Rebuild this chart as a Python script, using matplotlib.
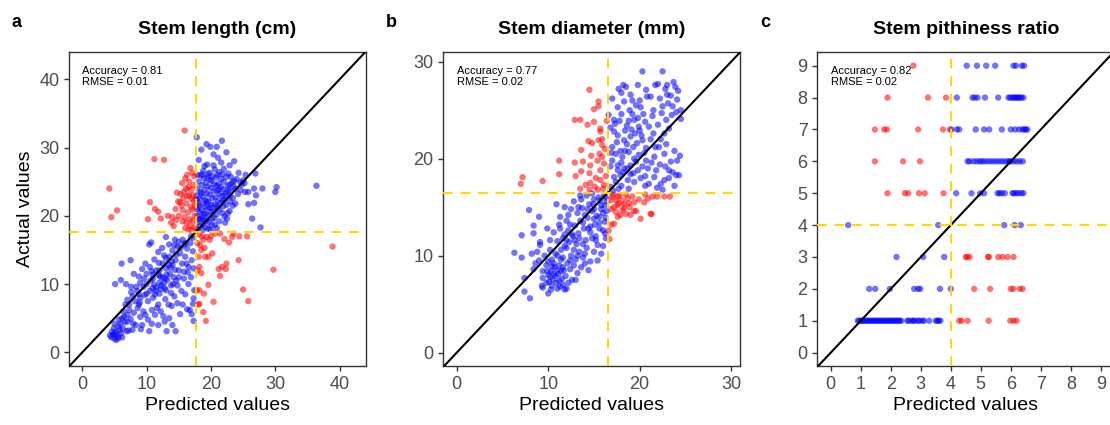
import matplotlib
matplotlib.use("Agg")
import matplotlib.pyplot as plt
import numpy as np

plt.rcParams.update({
    'font.family': ['Liberation Sans', 'DejaVu Sans'],
    'axes.linewidth': 1.0,
})

# ---------------- panel a : stem length (cm) ----------------
a_red = np.array([
    (15.9, 32.5), (11.2, 28.3), (12.7, 28.2), (4.2, 24.0), (4.5, 19.8), (5.4, 20.8),
    (10.5, 22.0), (10.2, 19.5), (11.3, 21.0), (11.8, 20.6), (12.2, 19.6), (13.8, 19.0),
    (14.2, 18.5), (14.7, 23.4), (14.9, 22.1), (16.8, 27.0), (17.1, 26.3), (16.3, 26.0),
    (16.0, 25.5), (15.5, 24.8), (16.5, 24.2), (15.8, 23.5), (16.6, 23.0), (17.2, 23.0),
    (17.0, 22.5), (15.2, 22.0), (16.2, 21.8), (17.3, 22.2), (14.5, 21.0), (15.6, 20.8),
    (16.4, 20.5), (17.1, 20.9), (15.0, 20.0), (15.9, 19.8), (16.7, 19.5), (17.2, 19.3),
    (14.6, 19.4), (16.2, 19.0), (16.8, 18.6), (17.4, 18.3), (16.0, 18.2), (17.0, 17.9),
    (15.4, 21.5), (16.9, 21.3), (15.7, 22.6), (17.3, 24.5), (16.1, 24.0), (15.3, 23.2),
    (16.6, 25.0), (17.4, 25.8), (14.0, 19.8), (13.3, 20.0), (16.3, 22.9), (16.9, 23.8),
    (17.5, 21.5), (17.5, 20.0), (16.5, 18.0), (15.6, 19.2),
    (18.1, 17.3), (18.8, 16.5), (18.3, 15.7), (19.3, 16.9), (18.5, 15.0), (19.1, 14.0),
    (19.6, 14.0), (20.2, 14.5), (19.8, 16.5), (20.6, 17.4), (21.4, 17.4), (22.1, 16.6),
    (22.8, 16.1), (23.3, 16.9), (24.4, 17.0), (25.6, 17.0), (23.5, 17.4), (18.2, 12.5),
    (18.5, 11.6), (17.8, 9.1), (18.2, 9.1), (18.9, 8.6), (19.6, 9.9), (18.2, 7.1),
    (18.8, 5.9), (19.2, 4.6), (20.4, 7.4), (21.2, 12.2), (21.4, 11.2), (21.7, 12.5),
    (22.4, 13.0), (22.3, 12.2), (24.3, 13.5), (25.0, 9.2), (25.8, 7.5), (29.7, 12.1),
    (38.9, 15.5), (18.1, 14.0), (17.9, 16.0), (18.6, 17.0), (19.0, 15.3), (18.0, 7.0),
    (20.0, 17.0), (17.9, 12.0),
])
a_blue = np.array([
    # predicted > 17.6, actual > 17.6
    (17.8, 31.5), (21.7, 31.0), (19.3, 30.5), (19.9, 30.1), (18.5, 29.7), (20.9, 30.1),
    (22.4, 29.3), (20.4, 29.0), (21.1, 28.5), (18.1, 28.2), (23.6, 28.0), (22.9, 27.4),
    (19.4, 27.5), (18.8, 26.6), (36.4, 24.4), (30.2, 24.2), (30.0, 23.5), (28.0, 24.0),
    (26.7, 24.0), (27.0, 23.0), (25.8, 23.5), (25.3, 23.5), (26.7, 21.9), (25.8, 21.7),
    (26.4, 19.6), (27.7, 18.3), (23.8, 21.8), (22.9, 20.7), (22.5, 19.6), (22.2, 19.0),
    (20.9, 18.2), (20.0, 17.9), (26.9, 26.2), (25.4, 26.0),
    (19.8, 26.3), (20.6, 26.8), (21.3, 26.4), (22.0, 26.9), (22.7, 26.2),
    (18.4, 25.9), (19.5, 26.1), (20.2, 25.8), (21.0, 26.0), (23.1, 25.7), (24.0, 25.4), (25.0, 25.2),
    (18.9, 25.5), (19.9, 25.3), (20.8, 25.6), (21.6, 25.4), (22.4, 25.7), (23.6, 25.1), (24.6, 24.9),
    (18.1, 25.0), (19.2, 24.8), (20.1, 25.1), (21.2, 24.7), (22.0, 25.0), (22.9, 24.6), (23.5, 24.3),
    (18.6, 24.5), (19.5, 24.3), (20.5, 24.6), (21.5, 24.2), (22.6, 24.4), (23.8, 24.0), (24.8, 24.6),
    (17.9, 24.0), (19.0, 23.8), (20.0, 24.1), (20.9, 23.7), (21.9, 23.9), (23.0, 23.6), (24.2, 23.2),
    (18.4, 23.5), (19.4, 23.3), (20.4, 23.6), (21.3, 23.2), (22.3, 23.4), (22.9, 22.9),
    (17.8, 23.0), (18.8, 22.8), (19.8, 23.1), (20.7, 22.7), (21.7, 22.9), (23.4, 22.6),
    (18.3, 22.5), (19.2, 22.3), (20.2, 22.6), (21.1, 22.2), (22.1, 22.4), (23.0, 22.1),
    (17.9, 22.0), (18.8, 21.8), (19.6, 22.1), (20.6, 21.7), (21.5, 21.9), (22.4, 21.6),
    (18.2, 21.5), (19.1, 21.3), (20.0, 21.6), (21.0, 21.2), (21.9, 21.4),
    (17.8, 21.0), (18.6, 20.8), (19.5, 21.1), (20.4, 20.7), (21.3, 20.9), (22.6, 20.4),
    (18.3, 20.5), (19.2, 20.3), (20.1, 20.6), (20.9, 20.2), (21.8, 20.4),
    (17.9, 20.0), (18.7, 19.8), (19.6, 20.1), (20.5, 19.7), (22.1, 19.9),
    (18.4, 19.5), (19.3, 19.3), (20.2, 19.6), (21.3, 19.2),
    (17.9, 19.0), (18.8, 18.8), (19.7, 19.1), (20.6, 18.7),
    (18.3, 18.5), (19.2, 18.3), (20.1, 18.6), (17.9, 18.0), (18.7, 17.9), (19.6, 18.1),
    (18.6, 26.1), (19.4, 25.6), (21.8, 26.1), (20.4, 27.4), (21.6, 27.8), (19.0, 27.3),
    (23.3, 24.9), (24.3, 26.3), (22.2, 23.1), (20.9, 24.4), (19.3, 22.0), (21.2, 23.8),
    (18.0, 21.3), (18.9, 20.3), (20.8, 21.4), (21.9, 22.3), (17.8, 22.4), (18.5, 23.3),
    (19.9, 21.2), (22.7, 23.8), (24.6, 23.8), (25.2, 24.8), (23.4, 21.5), (17.9, 26.0),
    (18.2, 19.5), (18.9, 19.4),
    # predicted < 17.6, actual < 17.6
    (4.5, 2.2), (4.8, 2.6), (5.0, 2.0), (5.2, 3.0), (5.5, 2.4), (5.8, 3.3), (4.6, 3.0),
    (5.3, 1.8), (6.0, 2.8), (5.6, 3.8), (6.3, 3.5), (4.9, 3.5), (5.9, 4.2), (6.6, 4.4),
    (6.9, 3.1), (7.2, 3.2), (6.5, 5.2), (7.0, 5.5), (7.5, 4.9), (7.8, 3.3), (8.3, 4.0),
    (8.0, 5.8), (7.3, 6.2), (8.6, 6.5), (9.0, 5.2), (8.8, 7.0), (9.5, 6.0), (9.3, 4.0),
    (10.4, 3.1), (10.8, 4.2), (11.3, 5.5), (11.8, 4.0), (12.2, 6.0), (12.8, 4.5),
    (13.1, 3.1), (13.5, 5.0), (14.0, 4.0), (14.5, 3.1), (15.2, 5.6), (13.9, 6.8),
    (14.8, 7.2), (15.6, 7.0), (16.3, 6.3), (17.0, 5.6), (16.7, 6.2), (17.3, 4.6),
    (17.2, 7.1), (17.3, 7.9), (17.4, 9.1), (17.3, 12.3), (4.3, 2.5), (5.1, 2.7),
    (6.1, 13.0), (7.5, 13.5), (5.1, 10.0), (6.0, 10.6), (6.8, 10.0), (10.4, 15.8),
    (10.7, 16.1), (13.0, 16.9), (14.4, 16.5), (7.8, 8.2), (8.5, 9.0), (9.0, 8.0),
    (9.5, 9.6), (10.0, 10.0), (10.5, 9.0), (10.2, 7.5), (11.0, 8.0), (11.5, 9.5),
    (11.0, 10.8), (12.0, 10.2), (12.5, 11.0), (12.0, 8.6), (12.8, 9.4), (13.2, 10.6),
    (13.6, 11.5), (13.0, 12.3), (14.0, 12.8), (14.5, 13.5), (14.2, 11.0), (15.0, 12.0),
    (15.5, 13.0), (15.2, 14.5), (16.0, 14.0), (16.3, 15.2), (16.8, 16.0), (17.2, 16.8),
    (16.5, 12.5), (17.0, 13.5), (15.8, 10.8), (14.8, 9.8), (13.8, 8.7), (12.9, 7.8),
    (11.8, 7.0), (10.8, 6.2), (9.8, 5.5), (8.2, 7.5), (7.0, 7.7), (7.6, 9.6),
    (8.8, 11.1), (9.3, 12.2), (9.8, 13.0), (10.5, 12.5), (11.2, 13.6), (11.8, 14.7),
    (12.4, 15.3), (13.5, 15.8), (14.8, 15.5), (15.6, 16.5), (16.9, 17.0), (11.5, 12.0),
    (12.5, 13.0), (13.5, 14.0), (10.0, 11.5), (9.0, 10.2), (8.0, 11.5), (13.8, 9.8),
    (14.6, 10.5), (15.4, 9.0), (16.0, 8.5), (16.5, 10.0), (12.6, 5.3), (11.6, 6.5),
    (10.2, 4.8), (9.1, 3.4), (7.9, 4.2), (6.4, 6.0), (6.7, 7.0), (13.4, 7.0),
    (14.3, 8.2), (15.8, 11.8), (16.9, 11.0), (17.2, 14.8), (16.2, 13.0), (15.0, 16.2),
    (14.0, 14.9), (13.0, 13.8), (12.0, 12.0), (11.0, 11.4), (10.6, 10.5), (9.7, 8.4),
    (8.8, 8.5), (7.3, 7.0), (6.2, 5.0), (5.7, 4.8), (11.4, 9.0), (12.3, 9.8),
    (13.1, 11.4), (12.7, 10.2), (11.9, 11.3), (13.7, 12.4), (14.4, 12.1), (10.9, 9.4),
    (11.2, 9.9), (12.2, 9.3), (12.9, 10.8), (13.4, 12.8), (13.9, 13.3), (14.6, 14.3),
    (15.3, 15.3), (15.9, 15.8), (12.1, 11.1), (10.8, 11.9), (9.6, 10.8), (8.4, 9.6),
    (7.6, 8.8), (8.9, 7.3), (10.0, 8.6), (11.3, 8.5), (13.0, 9.1), (14.1, 10.0),
    (15.0, 11.0), (16.4, 11.7), (16.0, 16.0), (14.3, 15.7), (12.7, 14.2), (11.9, 13.1),
    (5.6, 2.1), (6.2, 2.2), (5.0, 4.2), (7.0, 4.5),
])

# ---------------- panel b : stem diameter (mm) ----------------
b_red = np.array([
    (14.5, 27.1), (15.5, 25.9), (15.5, 25.4), (15.0, 25.1), (12.9, 24.0), (13.5, 24.0),
    (14.3, 23.5), (15.0, 23.8), (15.7, 23.1), (15.7, 22.8), (16.4, 23.9), (14.4, 21.8),
    (14.8, 21.6), (15.5, 21.9), (15.9, 21.4), (13.6, 20.9), (14.7, 20.3), (15.6, 20.5),
    (15.9, 20.2), (11.2, 19.8), (12.9, 19.6), (13.8, 19.7), (14.6, 19.3), (15.4, 19.8),
    (16.1, 19.5), (7.2, 18.1), (7.0, 17.4), (9.4, 17.7), (11.2, 18.4), (13.0, 18.2),
    (13.6, 18.7), (14.5, 18.5), (15.7, 18.8), (13.5, 16.9), (14.1, 17.3), (14.6, 17.5),
    (15.1, 17.1), (15.7, 17.8), (16.1, 17.3), (14.5, 16.8), (15.4, 16.8), (16.2, 21.0),
    (16.3, 18.2), (15.2, 18.0), (16.0, 16.9), (15.9, 22.0),
    (16.8, 15.7), (17.2, 15.0), (17.6, 16.1), (17.7, 15.4), (18.1, 15.7), (18.3, 14.9),
    (18.7, 15.9), (18.8, 15.4), (19.2, 16.1), (19.4, 15.5), (18.5, 14.3), (17.6, 14.0),
    (17.9, 14.2), (19.4, 14.6), (19.6, 14.6), (20.1, 13.8), (16.9, 13.2), (17.2, 13.3),
    (16.6, 12.6), (16.7, 11.7), (20.5, 15.5), (20.9, 15.9), (21.4, 16.1), (21.9, 16.1),
    (22.7, 16.1), (23.3, 16.1), (21.2, 14.3), (21.3, 14.3), (17.0, 16.1), (17.4, 15.7),
    (17.8, 16.2), (18.3, 15.3), (18.9, 15.0), (17.4, 14.5), (18.1, 14.7), (17.6, 15.2),
    (16.9, 14.8), (17.1, 16.3), (18.5, 16.3), (19.0, 14.2), (19.9, 15.8), (20.6, 16.3),
])
b_blue = np.array([
    # predicted > 16.5, actual > 16.5
    (20.3, 29.0), (22.5, 29.0), (17.7, 27.2), (18.2, 27.6), (18.5, 27.4), (19.8, 27.6),
    (20.7, 27.1), (21.7, 27.6), (23.0, 27.6), (23.9, 27.4), (22.8, 27.2), (17.0, 26.2),
    (18.3, 25.9), (19.2, 26.0), (19.6, 25.5), (20.1, 25.3), (21.5, 25.0), (22.2, 26.2),
    (22.5, 25.4), (23.1, 25.7), (23.6, 25.4), (24.1, 26.1), (24.5, 25.0), (24.5, 24.1),
    (17.6, 25.3), (16.6, 24.5), (17.2, 24.0), (18.6, 23.4), (19.4, 24.0), (19.9, 23.3),
    (21.0, 23.3), (22.0, 23.5), (22.7, 22.6), (23.2, 23.1), (17.6, 22.4), (18.3, 21.9),
    (19.0, 22.3), (19.7, 21.6), (20.3, 21.9), (20.7, 21.1), (21.7, 21.2), (22.1, 21.2),
    (17.0, 21.2), (17.4, 20.5), (18.1, 20.2), (18.8, 20.7), (19.4, 20.0), (19.9, 20.4),
    (20.7, 19.8), (21.6, 20.2), (22.7, 20.5), (23.4, 19.7), (24.1, 19.8), (16.8, 19.2),
    (17.6, 19.3), (18.3, 19.0), (19.0, 19.3), (19.8, 18.8), (20.9, 19.0), (21.8, 18.8),
    (23.2, 18.8), (24.0, 18.3), (24.3, 18.3), (17.2, 18.1), (17.9, 18.3), (18.7, 17.8),
    (19.4, 17.6), (20.1, 18.0), (21.0, 17.4), (22.3, 17.4), (22.7, 17.8), (23.2, 18.0),
    (16.8, 17.1), (17.7, 16.9), (18.8, 16.9), (22.5, 16.8), (18.7, 19.0),
    (18.0, 24.6), (18.9, 25.0), (19.1, 23.0), (19.5, 22.6), (20.0, 22.9), (20.4, 24.6),
    (19.3, 21.2), (18.6, 21.5), (17.9, 20.8), (17.2, 22.8), (16.8, 23.2), (17.4, 17.6),
    (18.2, 18.6), (19.0, 18.4), (20.5, 20.6), (21.2, 22.0), (20.0, 26.0), (23.5, 24.5),
    (22.9, 24.0), (21.9, 17.0), (20.6, 17.2), (23.8, 17.2), (17.1, 16.7), (18.0, 17.2),
    (17.3, 23.6), (17.8, 23.9), (18.4, 22.9), (19.2, 24.6), (19.8, 24.2), (20.6, 23.8),
    (21.4, 24.4), (22.4, 24.7), (23.0, 26.6), (24.2, 27.0), (23.4, 26.5), (21.2, 26.4),
    (19.0, 26.6), (18.0, 26.8), (20.2, 22.4), (21.5, 22.6), (22.3, 22.0), (22.9, 21.5),
    (17.5, 21.7), (18.4, 20.8), (19.6, 19.7), (20.3, 19.2), (21.3, 19.6), (22.2, 19.4),
    (23.8, 20.8), (24.4, 20.3), (17.0, 19.8), (18.0, 19.6), (19.3, 18.5), (20.6, 18.2),
    (21.6, 18.1), (22.8, 19.2), (23.6, 18.6), (17.6, 18.8), (16.9, 20.6), (18.8, 23.9),
    (20.8, 26.4), (22.0, 27.7), (23.7, 27.9), (24.0, 24.8),
    # predicted < 16.5, actual < 16.5
    (6.3, 10.3), (7.1, 9.8), (7.1, 12.1), (7.4, 7.7), (7.4, 6.3), (8.0, 5.6), (7.9, 14.7),
    (8.4, 12.3), (8.4, 13.1), (9.0, 14.0), (9.1, 11.4), (9.1, 11.1), (8.4, 8.6), (9.4, 7.7),
    (9.3, 6.9), (9.4, 6.7), (10.0, 6.1), (9.9, 12.8), (10.2, 11.6), (10.9, 15.3), (11.3, 14.0),
    (10.0, 8.0), (10.3, 8.4), (10.5, 7.5), (10.7, 8.8), (10.9, 7.2), (11.1, 8.1), (11.3, 6.8),
    (11.5, 7.6), (11.2, 9.0), (11.7, 8.5), (11.9, 7.9), (12.1, 9.2), (10.4, 9.6), (10.8, 10.2),
    (11.4, 10.6), (11.6, 9.8), (12.0, 10.8), (12.3, 11.4), (12.5, 10.0), (12.7, 12.0),
    (12.2, 12.6), (12.9, 13.1), (13.1, 11.2), (13.3, 12.3), (13.5, 13.6), (13.2, 14.4),
    (13.7, 14.9), (13.9, 12.8), (14.1, 11.6), (14.3, 13.9), (14.5, 15.3), (14.6, 12.4),
    (14.8, 14.6), (15.0, 15.8), (15.1, 13.2), (15.3, 14.1), (15.5, 16.0), (15.6, 12.8),
    (15.8, 15.2), (16.0, 14.4), (16.1, 16.2), (16.2, 13.5), (16.3, 11.8), (16.4, 15.6),
    (13.0, 9.6), (13.4, 10.4), (13.8, 9.8), (14.2, 10.8), (14.6, 9.4), (15.0, 10.4),
    (15.4, 11.1), (15.8, 10.2), (16.2, 12.3), (12.4, 8.6), (12.8, 9.0), (13.6, 8.8),
    (14.0, 9.2), (12.0, 6.6), (11.6, 7.0), (12.6, 7.5), (13.2, 8.2), (10.6, 9.2),
    (9.8, 9.0), (11.0, 11.5), (11.8, 12.2), (11.3, 12.8), (12.0, 13.6), (12.5, 14.8),
    (12.2, 14.2), (13.6, 15.8), (14.2, 16.2), (14.8, 16.4), (15.6, 14.0), (14.0, 14.2),
    (15.2, 12.0), (16.4, 14.6), (16.0, 11.0), (15.4, 9.5), (14.4, 8.5), (13.0, 7.5),
    (11.4, 9.6), (10.2, 10.6), (9.6, 10.0), (8.6, 9.2), (8.8, 10.4), (9.8, 7.2),
    (10.4, 6.9), (11.8, 11.0), (12.8, 10.6), (14.8, 11.8), (15.6, 13.4), (13.8, 11.2),
    (14.6, 13.0), (16.0, 12.6), (15.0, 14.8), (13.5, 16.2), (12.8, 15.6), (11.8, 15.0),
    (12.6, 12.2), (10.6, 12.4), (11.2, 13.2), (10.2, 7.8), (10.8, 7.9), (11.0, 6.6),
    (10.4, 8.9), (11.4, 8.4), (9.9, 8.4), (12.2, 7.2),
    (10.1, 7.3), (10.6, 8.1), (11.0, 8.5), (11.6, 8.8), (10.3, 6.5), (11.2, 7.4),
    (11.8, 6.5), (12.4, 9.5), (12.9, 11.6), (13.4, 11.8), (14.4, 12.8), (15.0, 13.8),
    (15.8, 14.8), (16.2, 15.2), (14.3, 14.8), (13.8, 13.4), (12.4, 13.2), (11.6, 11.8),
    (13.2, 10.0), (14.0, 10.2), (15.2, 11.6), (16.3, 13.9), (15.7, 15.7), (16.3, 16.0),
    (14.9, 15.3), (13.3, 15.0), (12.0, 11.6), (11.0, 10.0), (10.0, 9.4), (9.4, 8.4),
    (9.0, 9.5), (8.2, 10.2),
])

# ---------------- panel c : stem pithiness ratio ----------------
c_red = np.array([
    (2.75, 9), (1.89, 8), (3.24, 8), (3.84, 8),
    (1.47, 7), (1.78, 7), (1.87, 7), (2.91, 7), (3.74, 7), (3.97, 7),
    (1.47, 6), (2.41, 6), (2.97, 6),
    (1.89, 5), (2.47, 5), (2.58, 5), (2.94, 5), (3.13, 5), (3.76, 5),
    (4.50, 3), (4.55, 3), (4.62, 3), (5.24, 3), (5.27, 3), (5.58, 3), (5.72, 3), (5.89, 3), (6.09, 3),
    (4.78, 2), (5.31, 2), (6.00, 2), (6.09, 2), (6.30, 2), (6.39, 2),
    (4.28, 1), (4.36, 1), (4.56, 1), (5.26, 1), (5.98, 1), (6.09, 1), (6.19, 1),
])
c_blue = np.array([
    (4.53, 9), (4.87, 9), (5.18, 9), (5.48, 9), (6.09, 9), (6.17, 9), (6.37, 9), (6.44, 9),
    (4.20, 8), (4.72, 8), (4.80, 8), (4.89, 8), (5.14, 8), (5.58, 8), (5.92, 8), (5.98, 8),
    (6.05, 8), (6.10, 8), (6.15, 8), (6.20, 8), (6.25, 8), (6.30, 8), (6.35, 8), (6.42, 8),
    (4.02, 7), (4.20, 7), (4.28, 7), (4.83, 7), (5.11, 7), (5.28, 7), (5.70, 7), (6.00, 7),
    (6.14, 7), (6.28, 7), (6.39, 7), (6.45, 7), (6.50, 7), (6.55, 7),
    (4.56, 6), (4.62, 6), (4.75, 6), (4.85, 6), (4.95, 6), (5.02, 6), (5.10, 6), (5.20, 6),
    (5.30, 6), (5.40, 6), (5.50, 6), (5.60, 6), (5.70, 6), (5.80, 6), (5.90, 6), (5.95, 6),
    (6.00, 6), (6.10, 6), (6.20, 6), (6.30, 6), (6.40, 6),
    (4.18, 5), (4.69, 5), (4.98, 5), (5.11, 5), (5.56, 5), (5.62, 5), (5.70, 5), (5.80, 5),
    (6.06, 5), (6.10, 5), (6.18, 5), (6.25, 5), (6.35, 5), (6.42, 5),
    (0.58, 4), (3.58, 4), (5.78, 4), (6.13, 4), (6.33, 4),
    (2.19, 3), (3.08, 3), (3.78, 3),
    (1.28, 2), (1.48, 2), (1.97, 2), (2.78, 2), (2.91, 2), (2.98, 2), (3.64, 2), (4.00, 2),
    (0.90, 1), (0.95, 1), (1.00, 1), (1.05, 1), (1.10, 1), (1.15, 1), (1.20, 1), (1.25, 1),
    (1.30, 1), (1.35, 1), (1.40, 1), (1.45, 1), (1.50, 1), (1.55, 1), (1.60, 1), (1.65, 1),
    (1.70, 1), (1.75, 1), (1.80, 1), (1.85, 1), (1.90, 1), (1.95, 1), (2.00, 1), (2.05, 1),
    (2.10, 1), (2.15, 1), (2.20, 1), (2.25, 1), (2.30, 1), (2.35, 1), (2.55, 1), (2.60, 1),
    (2.70, 1), (2.75, 1), (2.80, 1), (2.90, 1), (2.95, 1), (3.05, 1), (3.10, 1), (3.28, 1),
    (3.50, 1), (3.55, 1), (3.60, 1), (3.65, 1),
])

panels = [
    ("a", "Stem length (cm)", a_red, a_blue, 17.6, "0.81", "0.01",
     (-2.07, 44.1), (-2.0, 44.0), [0, 10, 20, 30, 40]),
    ("b", "Stem diameter (mm)", b_red, b_blue, 16.5, "0.77", "0.02",
     (-1.47, 31.0), (-1.38, 31.0), [0, 10, 20, 30]),
    ("c", "Stem pithiness ratio", c_red, c_blue, 4.0, "0.82", "0.02",
     (-0.45, 9.45), (-0.42, 9.43), list(range(10))),
]
lefts = [69, 443.3, 817.3]

fig = plt.figure(figsize=(11.1, 4.25), dpi=100)
W, H = 1110, 425
for (letter, title, red, blue, thr, acc, rmse, xl, yl, ticks), left in zip(panels, lefts):
    ax = fig.add_axes([left / W, 1 - 366 / H, 297 / W, 314 / H])
    ax.scatter(blue[:, 0], blue[:, 1], s=21, color='#0000FF', alpha=0.55,
               edgecolors='none', zorder=2)
    ax.scatter(red[:, 0], red[:, 1], s=21, color='#FF0000', alpha=0.55,
               edgecolors='none', zorder=2)
    ax.axline((0, 0), slope=1, color='black', lw=1.5, zorder=3)
    ax.axvline(thr, color='#FFD700', lw=1.4, ls=(0, (5, 4)), zorder=4)
    ax.axhline(thr, color='#FFD700', lw=1.4, ls=(0, (5, 4)), zorder=4)
    ax.set_xlim(xl)
    ax.set_ylim(yl)
    ax.set_xticks(ticks)
    ax.set_yticks(ticks)
    ax.tick_params(labelsize=13, labelcolor='#4D4D4D', color='#333333',
                   length=3.5, width=1)
    for sp in ax.spines.values():
        sp.set_color('#333333')
    ax.text(0.045, 0.955, f"Accuracy = {acc}\nRMSE = {rmse}", transform=ax.transAxes,
            ha='left', va='top', fontsize=8, linespacing=1.05)
    ax.set_title(title, fontsize=14, fontweight='bold', pad=13)
    ax.set_xlabel("Predicted values", fontsize=14, labelpad=3)
    if letter == "a":
        ax.set_ylabel("Actual values", fontsize=14, labelpad=4)
    fig.text((left - 57) / W, 1 - 27 / H, letter, fontsize=13, fontweight='bold')

fig.savefig("out.png", dpi=100)
